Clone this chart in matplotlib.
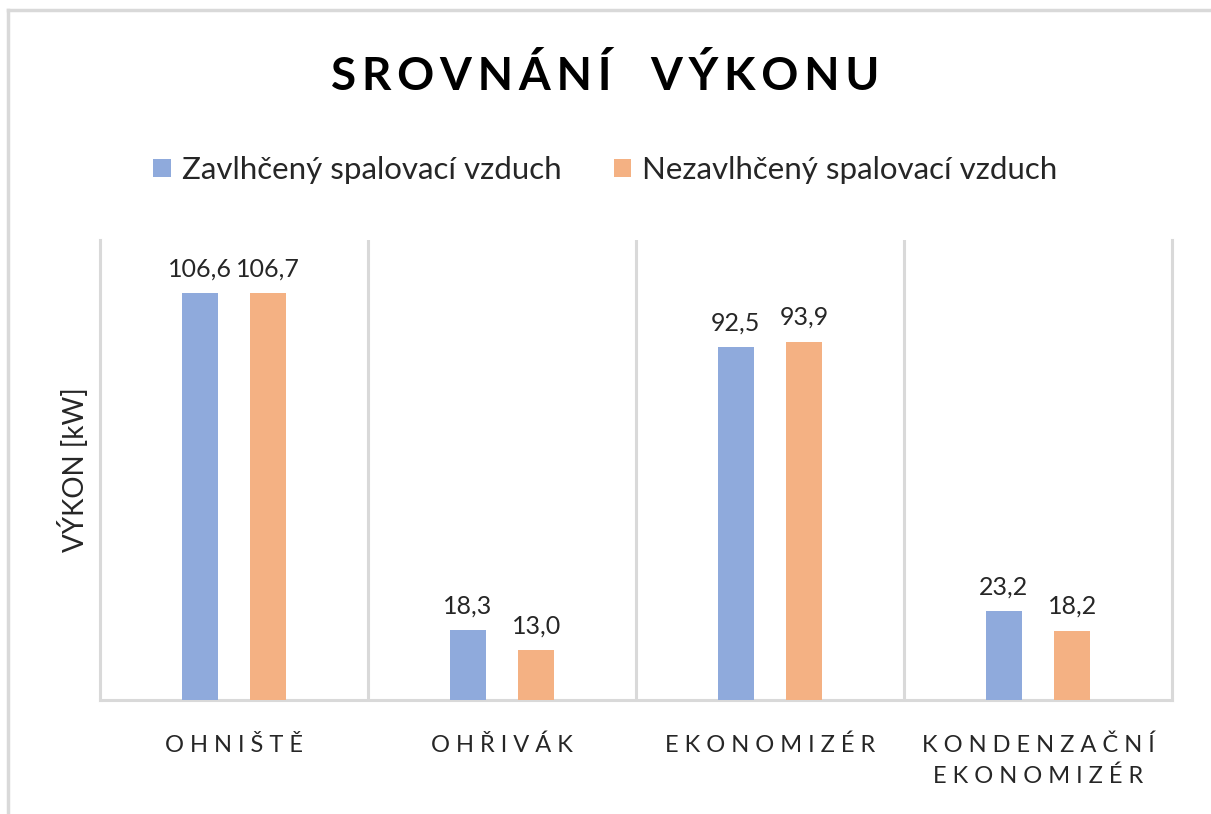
import matplotlib.pyplot as plt
import numpy as np
from matplotlib.lines import Line2D

categories = ["OHNIŠTĚ", "OHŘIVÁK", "EKONOMIZÉR", "KONDENZAČNÍ\nEKONOMIZÉR"]
series_names = ["Zavlhčený spalovací vzduch", "Nezavlhčený spalovací vzduch"]
zavlhceny = [106.6, 18.3, 92.5, 23.2]
nezavlhceny = [106.7, 13.0, 93.9, 18.2]

blue = "#8FAADC"
orange = "#F4B183"
grid_gray = "#D9D9D9"
fam = ["Lato", "DejaVu Sans"]
plt.rcParams["font.family"] = fam


def spaced(s, sep=" "):
    # wide letter spacing like the original axis labels
    return "\n".join(sep.join(line) for line in s.split("\n"))


fig = plt.figure(figsize=(12.11, 8.14), dpi=100)
ax = fig.add_axes([100 / 1211, 114 / 814, 1072 / 1211, 460 / 814])

x = np.arange(len(categories))
w = 0.135
off = 0.128
b1 = ax.bar(x - off, zavlhceny, w, color=blue, label=series_names[0], zorder=3)
b2 = ax.bar(x + off, nezavlhceny, w, color=orange, label=series_names[1], zorder=3)

for bars, vals in [(b1, zavlhceny), (b2, nezavlhceny)]:
    for rect, v in zip(bars, vals):
        ax.annotate(f"{v:.1f}".replace(".", ","),
                    (rect.get_x() + rect.get_width() / 2, rect.get_height()),
                    xytext=(0, 9), textcoords="offset points",
                    ha="center", va="bottom", fontsize=18, color="#262626")

ax.set_xlim(-0.5, len(categories) - 0.5)
ax.set_ylim(0, 120.5)
ax.set_yticks([])
ax.set_xticks(x)
ax.set_xticklabels([spaced(c) for c in categories], fontsize=17, color="#262626",
                   linespacing=1.55)
ax.tick_params(axis="x", length=0, pad=25)
for xv in x[:-1] + 0.5:
    ax.axvline(xv, color=grid_gray, lw=2.2, zorder=1)

for s in ["left", "right", "bottom"]:
    ax.spines[s].set_color(grid_gray)
    ax.spines[s].set_linewidth(2.2)
ax.spines["top"].set_visible(False)

ax.set_ylabel("VÝKON [kW]", fontsize=20, color="#262626", labelpad=8)

fig.text(0.5, 1 - 76 / 814, "SROVNÁNÍ  VÝKONU".replace("", "\u2009").strip("\u2009"),
         ha="center", va="center", fontsize=33, fontweight="bold", color="#000000")

fig.legend(handles=[b1, b2], loc="center", bbox_to_anchor=(0.5, 1 - 170 / 814),
           ncol=2, frameon=False, fontsize=22.5, handlelength=0.55, handleheight=0.55,
           handletextpad=0.35, columnspacing=1.7, labelcolor="#262626")

# outer chart border (top and left edges visible)
fig.add_artist(Line2D([8 / 1211, 1.0], [1 - 10 / 814, 1 - 10 / 814],
                      transform=fig.transFigure, color=grid_gray, lw=2.5))
fig.add_artist(Line2D([8 / 1211, 8 / 1211], [0, 1 - 10 / 814],
                      transform=fig.transFigure, color=grid_gray, lw=2.5))

fig.savefig("out.png", dpi=100, facecolor="white")
